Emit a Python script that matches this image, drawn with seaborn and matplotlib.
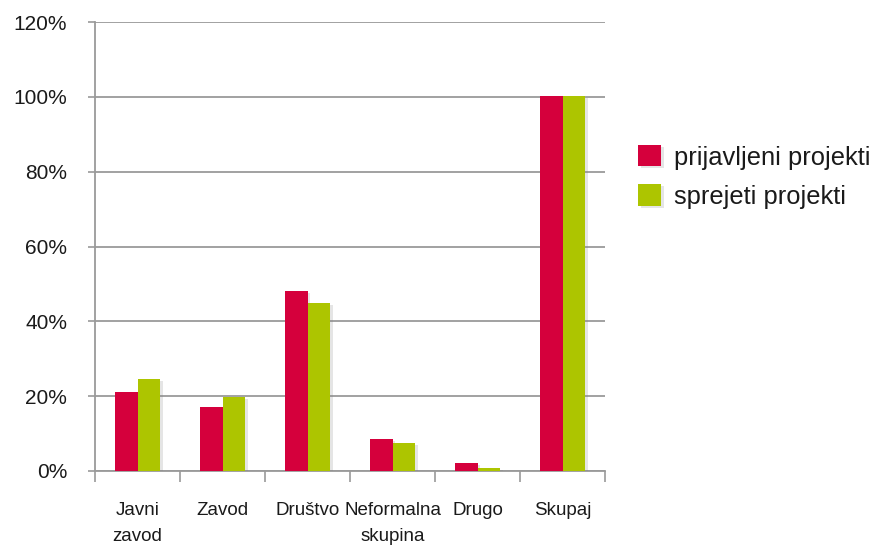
import matplotlib
matplotlib.use("Agg")
import matplotlib.pyplot as plt
import matplotlib.patheffects as pe
from matplotlib.ticker import FuncFormatter, FixedLocator
import seaborn as sns
import pandas as pd

categories = ["Javni\nzavod", "Zavod", "Društvo", "Neformalna\nskupina", "Drugo", "Skupaj"]
prijavljeni = [21.1, 17.1, 48.1, 8.6, 2.1, 100.2]
sprejeti = [24.6, 19.9, 44.9, 7.6, 0.9, 100.2]
series_names = ["prijavljeni projekti", "sprejeti projekti"]
yticks = [0, 20, 40, 60, 80, 100, 120]

df = pd.DataFrame({
    "cat": categories * 2,
    "val": prijavljeni + sprejeti,
    "series": [series_names[0]] * len(categories) + [series_names[1]] * len(categories),
})

sns.set_theme(style="white")
plt.rcParams["font.family"] = ["Liberation Sans", "DejaVu Sans"]

fig = plt.figure(figsize=(8.74, 5.47), dpi=100)
ax = fig.add_axes([95 / 874, 1 - 471 / 547, 510 / 874, 449 / 547])

palette = {series_names[0]: "#D5003C", series_names[1]: "#ADC500"}
sns.barplot(data=df, x="cat", y="val", hue="series", palette=palette,
            width=0.535, gap=0, saturation=1, ax=ax, zorder=3, linewidth=0)

for p in ax.patches:
    p.set_path_effects([pe.SimplePatchShadow(offset=(2, -1.5), shadow_rgbFace="#808080", alpha=0.2),
                        pe.Normal()])

ax.set_xlim(-0.5, len(categories) - 0.5)
ax.set_ylim(0, 120)
ax.set_yticks(yticks)
ax.yaxis.set_major_formatter(FuncFormatter(lambda v, _: f"{int(v)}%"))
ax.grid(axis="y", color="#9a9a9a", linewidth=1.3, zorder=0)
ax.set_axisbelow(True)

for s in ["top", "right"]:
    ax.spines[s].set_visible(False)
for s in ["left", "bottom"]:
    ax.spines[s].set_color("#9a9a9a")
    ax.spines[s].set_linewidth(1.3)

ax.tick_params(axis="y", which="major", left=True, length=5, width=1.2, color="#9a9a9a",
               pad=15, labelsize=15, labelcolor="#1a1a1a")
ax.tick_params(axis="x", which="major", bottom=False, length=0, pad=22, labelsize=13.5,
               labelcolor="#1a1a1a")
ax.xaxis.set_minor_locator(FixedLocator([i - 0.5 for i in range(len(categories) + 1)]))
ax.tick_params(axis="x", which="minor", bottom=True, length=8, width=1.2, color="#9a9a9a",
               direction="out")
for lbl in ax.get_xticklabels():
    lbl.set_linespacing(1.75)
    lbl.set_verticalalignment("top")

ax.set_xlabel("")
ax.set_ylabel("")

handles, labels = ax.get_legend_handles_labels()
ax.legend_.remove()
fig.legend(handles, labels, loc="center left", bbox_to_anchor=(638 / 874, 1 - 177 / 547),
           frameon=False, fontsize=18.4, handlelength=0.9, handleheight=0.9,
           handletextpad=0.5, labelspacing=0.58, borderpad=0, borderaxespad=0,
           labelcolor="#1a1a1a")

fig.savefig("out.png", dpi=100, facecolor="white")
